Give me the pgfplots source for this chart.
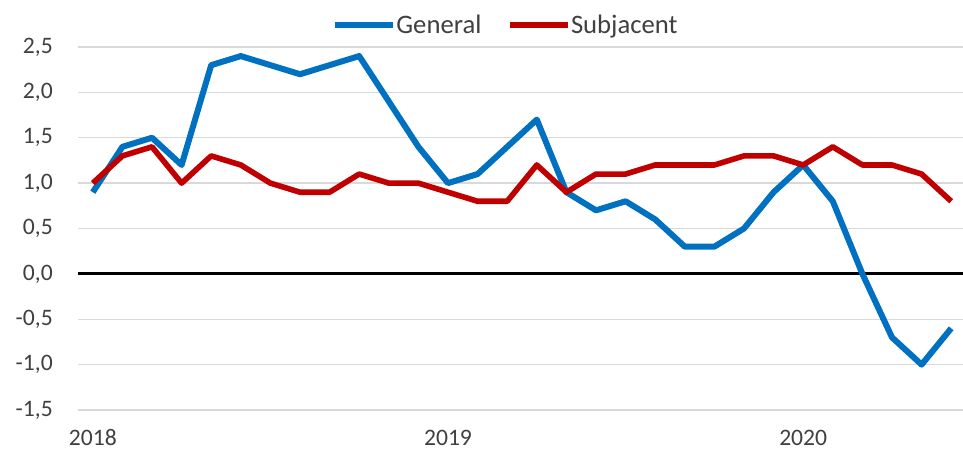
\documentclass[border=0pt]{standalone}
\usepackage{fontspec}
\setmainfont{Carlito}
\usepackage{pgfplots}
\usepackage{pgfplotstable}
\pgfplotsset{compat=1.18}

\definecolor{genblue}{RGB}{0,112,192}
\definecolor{subred}{RGB}{192,0,0}
\definecolor{gridgray}{RGB}{217,217,217}
\definecolor{labelgray}{RGB}{64,64,64}

% Monthly inflation, Jan 2018 (m=0) to Jun 2020 (m=29)
\pgfplotstableread{
m  general
0   0.9
1   1.4
2   1.5
3   1.2
4   2.3
5   2.4
6   2.3
7   2.2
8   2.3
9   2.4
10  1.9
11  1.4
12  1.0
13  1.1
14  1.4
15  1.7
16  0.9
17  0.7
18  0.8
19  0.6
20  0.3
21  0.3
22  0.5
23  0.9
24  1.2
25  0.8
26  0.0
27 -0.7
28 -1.0
29 -0.6
}\generaltable

\pgfplotstableread{
m  core
0   1.0
1   1.3
2   1.4
3   1.0
4   1.3
5   1.2
6   1.0
7   0.9
8   0.9
9   1.1
10  1.0
11  1.0
12  0.9
13  0.8
14  0.8
15  1.2
16  0.9
17  1.1
18  1.1
19  1.2
20  1.2
21  1.2
22  1.3
23  1.3
24  1.2
25  1.4
26  1.2
27  1.2
28  1.1
29  0.8
}\coretable

\begin{document}
\begin{tikzpicture}
\begin{axis}[
  at={(0,0)}, anchor=south west,
  scale only axis,
  width=666pt, height=272.25pt,
  xmin=-0.5, xmax=29.5,
  ymin=-1.5, ymax=2.5,
  ytick={-1.5,-1,...,2.5},
  xtick={0,12,24},
  xticklabels={2018,2019,2020},
  axis line style={draw=none},
  major tick length=0pt,
  ymajorgrids,
  grid style={gridgray, line width=1.1pt},
  tick label style={font=\fontsize{17.7}{20}\selectfont, text=labelgray},
  yticklabel style={anchor=east, inner sep=0pt, xshift=-18.75pt,
    /pgf/number format/.cd, fixed, fixed zerofill, precision=1, use comma, assume math mode=true},
  xticklabel style={anchor=base, inner sep=0pt, yshift=-26.8pt},
  legend columns=2,
  legend style={at={(0.4809,1.0606)}, anchor=center, draw=none, fill=none,
    inner sep=0pt, outer sep=0pt,
    nodes={inner sep=0pt, font=\fontsize{20}{24}\selectfont, text=labelgray},
    /tikz/every even column/.append style={column sep=19.5pt}},
  legend image code/.code={\draw[#1] (0pt,0pt) -- (43.5pt,0pt);},
]
\draw[black, line width=2.4pt] (axis cs:-0.5,0) -- (axis cs:29.5,0);
\addplot[genblue, line width=4.5pt, line join=round, mark=none] table[x=m, y=general] {\generaltable};
\addlegendentry{General}
\addplot[subred, line width=4.2pt, line join=round, mark=none] table[x=m, y=core] {\coretable};
\addlegendentry{Subjacent}
\end{axis}
\pgfresetboundingbox
\path[use as bounding box] (-58.5pt,-30pt) rectangle (663.75pt,307.5pt);
\end{tikzpicture}
\end{document}
